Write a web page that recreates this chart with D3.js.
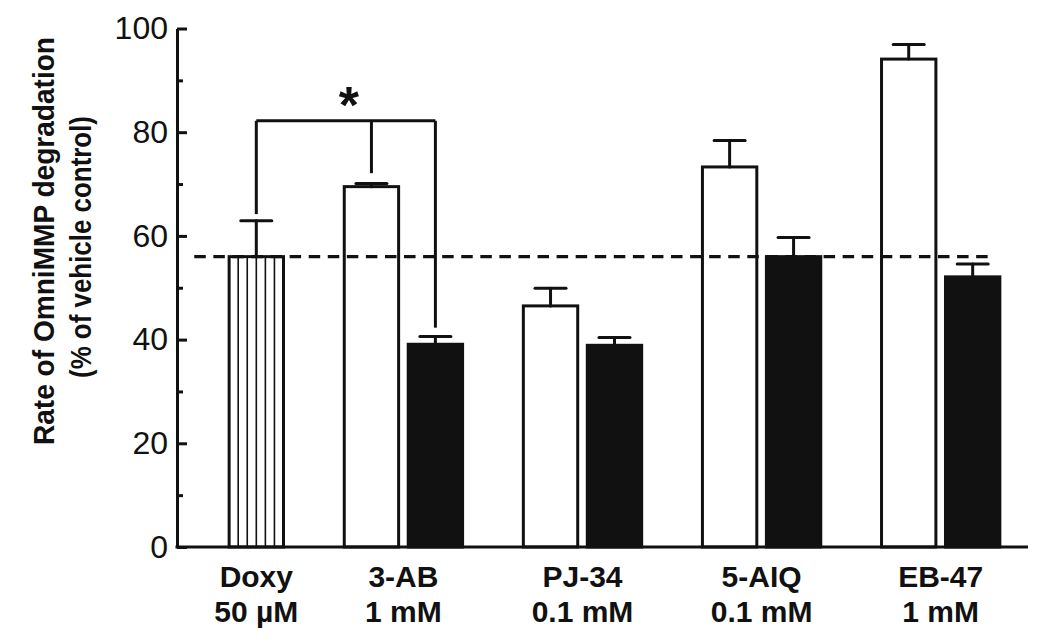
<!DOCTYPE html>
<html>
<head>
<meta charset="utf-8">
<script src="https://cdn.jsdelivr.net/npm/d3@7"></script>
<style>
  html, body { margin: 0; padding: 0; background: #fff; }
  svg { display: block; }
  text { font-family: "Liberation Sans", Arial, Helvetica, sans-serif; fill: #111; }
</style>
</head>
<body>
<svg id="chart" width="1050" height="643"></svg>
<script>
// ---------------- data ----------------
const categories = ["Doxy", "3-AB", "PJ-34", "5-AIQ", "EB-47"];
const doses = ["50 \u00B5M", "1 mM", "0.1 mM", "0.1 mM", "1 mM"];
const doxyValues = [56.0];
const doxyErrors = [6.9];
const whiteValues = [69.5, 46.5, 73.3, 94.1];
const whiteErrors = [0.6, 3.4, 5.1, 2.8];
const blackValues = [39.1, 38.9, 56.0, 52.1];
const blackErrors = [1.5, 1.5, 3.7, 2.5];
const referenceLevel = [56.0];
const yTicks = [0, 20, 40, 60, 80, 100];
const yMinorTicks = [10, 30, 50, 70, 90];
const bracketLevel = [82.2];
const bracketLegEnds = [64.2, 72.1, 42.3]; // Doxy, 3-AB white, 3-AB black
const yTitle = ["Rate of OmniMMP degradation", "(% of vehicle control)"];

// ---------------- layout ----------------
const ink = "#111";
const svg = d3.select("#chart");
const plotLeft = 177, plotRight = 1028, plotTop = 28.5, plotBottom = 547;
const groupGap = 0.8;      // extra slot units between groups
const barUnits = 0.85;     // bar width in slot units

// build bar list
const bars = [];
let slot = 0;
categories.forEach((c, g) => {
  if (g === 0) {
    bars.push({cat: c, g, kind: "hatch", value: doxyValues[0], err: doxyErrors[0], pos: slot + groupGap * g + 0.5});
    slot += 1;
  } else {
    bars.push({cat: c, g, kind: "white", value: whiteValues[g - 1], err: whiteErrors[g - 1], pos: slot + groupGap * g + 0.5});
    slot += 1;
    bars.push({cat: c, g, kind: "black", value: blackValues[g - 1], err: blackErrors[g - 1], pos: slot + groupGap * g + 0.5});
    slot += 1;
  }
});

const x = d3.scaleLinear().domain([-0.74, 12.565]).range([plotLeft, plotRight]);
const y = d3.scaleLinear().domain([0, 100]).range([plotBottom, plotTop]);
const bw = x(barUnits) - x(0);

// bars
const barG = svg.append("g");
barG.selectAll("rect.bar").data(bars).join("rect")
  .attr("class", "bar")
  .attr("x", d => x(d.pos) - bw / 2)
  .attr("y", d => y(d.value))
  .attr("width", bw)
  .attr("height", d => y(0) - y(d.value))
  .attr("fill", d => d.kind === "black" ? ink : "#fff")
  .attr("stroke", ink)
  .attr("stroke-width", 3);

// hatch lines for Doxy
const hatchBars = bars.filter(d => d.kind === "hatch");
hatchBars.forEach(d => {
  const n = 6;
  const lines = d3.range(1, n);
  barG.selectAll(null).data(lines).join("line")
    .attr("x1", i => x(d.pos) - bw / 2 + bw * i / n)
    .attr("x2", i => x(d.pos) - bw / 2 + bw * i / n)
    .attr("y1", y(d.value))
    .attr("y2", y(0))
    .attr("stroke", ink)
    .attr("stroke-width", 1.6);
});

// dashed reference line
svg.append("line")
  .attr("x1", x(-0.47)).attr("x2", x(12.03))
  .attr("y1", y(referenceLevel[0])).attr("y2", y(referenceLevel[0]))
  .attr("stroke", ink).attr("stroke-width", 3.2)
  .attr("stroke-dasharray", "11.5,7.57");

// error bars
const capW = 31;
const errG = svg.append("g").attr("stroke", ink).attr("stroke-width", 3).attr("stroke-linecap", "round");
errG.selectAll("line.v").data(bars).join("line")
  .attr("x1", d => x(d.pos)).attr("x2", d => x(d.pos))
  .attr("y1", d => y(d.value)).attr("y2", d => y(d.value + d.err));
errG.selectAll("line.c").data(bars).join("line")
  .attr("x1", d => x(d.pos) - capW / 2).attr("x2", d => x(d.pos) + capW / 2)
  .attr("y1", d => y(d.value + d.err)).attr("y2", d => y(d.value + d.err));

// significance bracket
const legX = [bars[0], bars[1], bars[2]].map(d => x(d.pos));
const bG = svg.append("g").attr("stroke", ink).attr("stroke-width", 3).attr("fill", "none");
bG.append("line").attr("x1", legX[0]).attr("x2", legX[2])
  .attr("y1", y(bracketLevel[0])).attr("y2", y(bracketLevel[0]));
bG.selectAll("line.leg").data(legX).join("line")
  .attr("x1", d => d).attr("x2", d => d)
  .attr("y1", y(bracketLevel[0]))
  .attr("y2", (d, i) => y(bracketLegEnds[i]));
svg.append("text")
  .attr("x", (legX[0] + legX[2]) / 2 + 3)
  .attr("y", y(bracketLevel[0]) + 2)
  .attr("text-anchor", "middle")
  .attr("font-size", 52).attr("font-weight", "bold")
  .text("*");

// y axis
const yAxis = d3.axisLeft(y).tickValues(yTicks).tickSize(-10).tickSizeOuter(0).tickPadding(9);
const ya = svg.append("g").attr("transform", `translate(${plotLeft},0)`).call(yAxis);
ya.select(".domain").attr("stroke", ink).attr("stroke-width", 3);
ya.selectAll(".tick line").attr("stroke", ink).attr("stroke-width", 3);
ya.selectAll(".tick text").attr("font-size", 32).attr("fill", ink)
  .attr("font-family", "'Liberation Sans', Arial, sans-serif");
const yMinor = d3.axisLeft(y).tickValues(yMinorTicks).tickSize(-6).tickFormat("");
const ym = svg.append("g").attr("transform", `translate(${plotLeft},0)`).call(yMinor);
ym.select(".domain").remove();
ym.selectAll(".tick line").attr("stroke", ink).attr("stroke-width", 3);

// x axis line
svg.append("line").attr("x1", plotLeft - 1.5).attr("x2", plotRight)
  .attr("y1", y(0)).attr("y2", y(0))
  .attr("stroke", ink).attr("stroke-width", 3);

// x labels
const groupCenters = categories.map((c, g) => d3.mean(bars.filter(b => b.g === g), b => x(b.pos)));
const xl = svg.append("g").attr("font-size", 30).attr("font-weight", "bold").attr("text-anchor", "middle");
xl.selectAll("text.cat").data(categories).join("text")
  .attr("x", (d, i) => groupCenters[i]).attr("y", 587).text(d => d);
xl.selectAll("text.dose").data(doses).join("text")
  .attr("x", (d, i) => groupCenters[i]).attr("y", 622).text(d => d);

// y title
const yt = svg.append("g").attr("transform", `translate(54, 241) rotate(-90)`)
  .attr("font-weight", "bold").attr("text-anchor", "middle");
yt.append("text").attr("x", 0).attr("y", 0).attr("font-size", 30)
  .attr("textLength", 408).attr("lengthAdjust", "spacingAndGlyphs").text(yTitle[0]);
yt.append("text").attr("x", -6).attr("y", 37).attr("font-size", 29)
  .attr("textLength", 262).attr("lengthAdjust", "spacingAndGlyphs").text(yTitle[1]);
</script>
</body>
</html>
